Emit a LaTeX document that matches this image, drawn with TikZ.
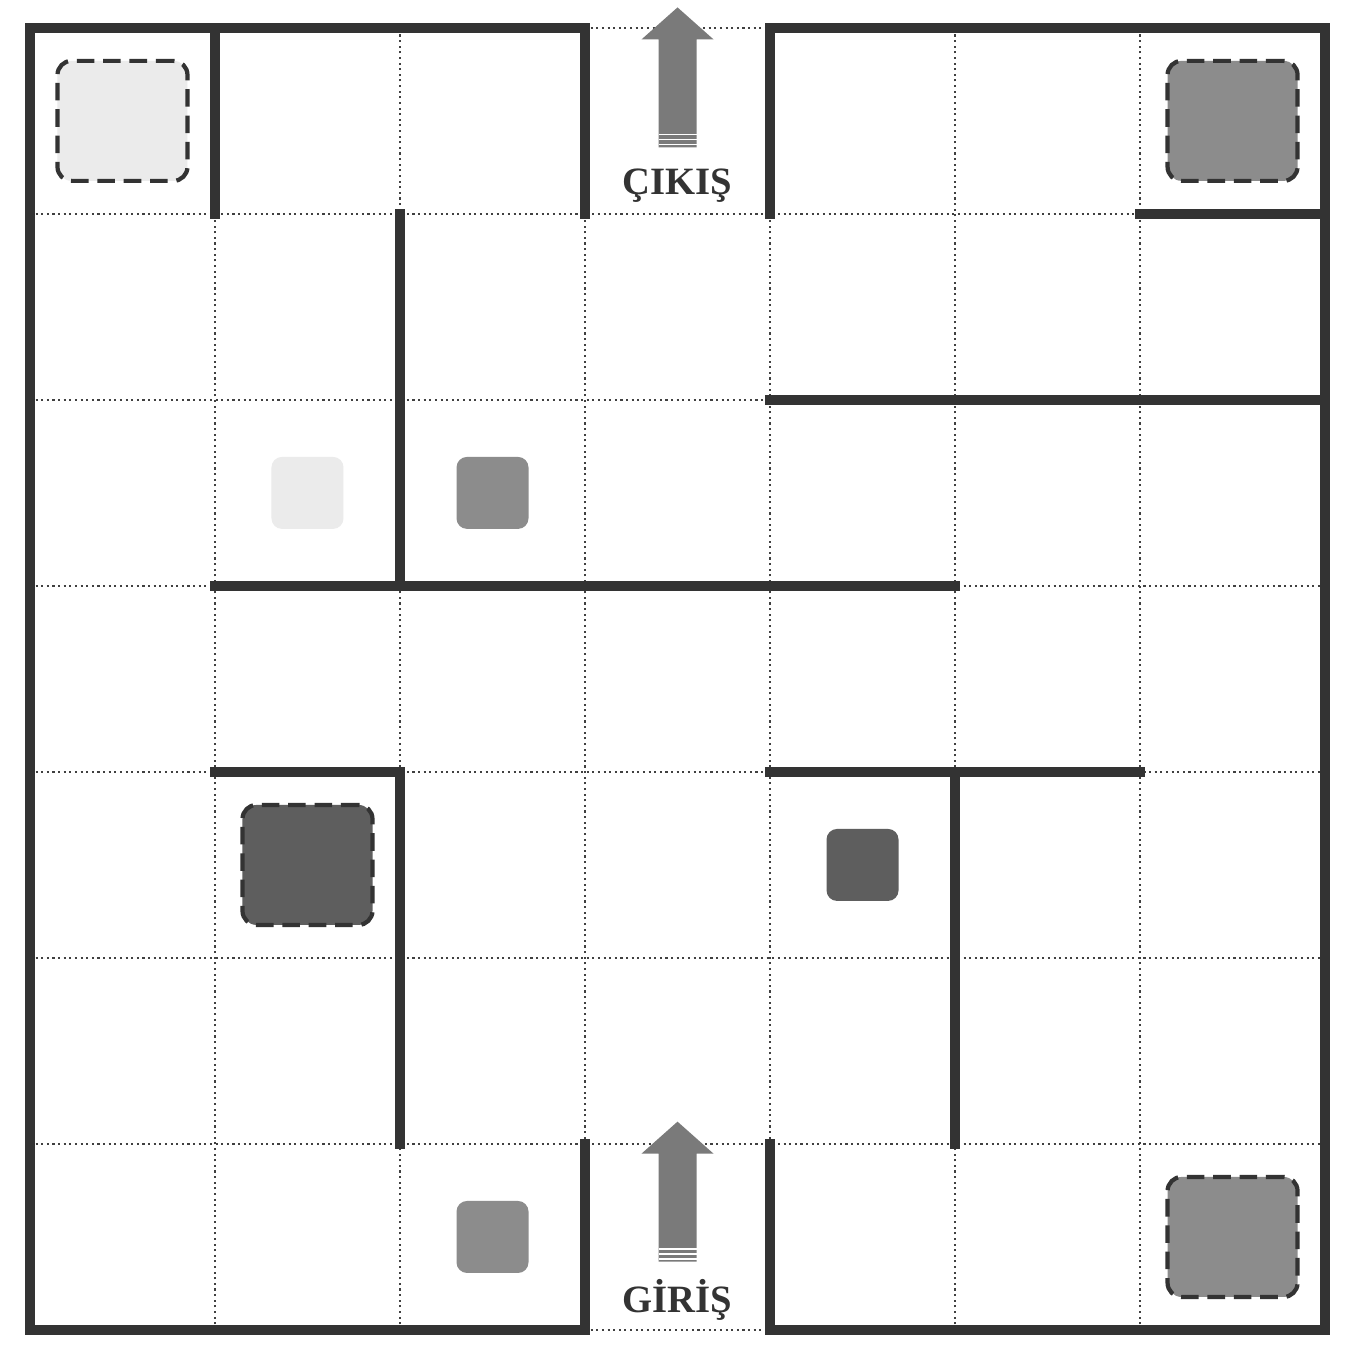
\documentclass[tikz,border=0pt]{standalone}
\usepackage{fontspec}
\setmainfont{Liberation Serif}
\usepackage{xcolor}
\definecolor{mazewall}{HTML}{333333}
\definecolor{mazelight}{HTML}{EBEBEB}
\definecolor{mazemid}{HTML}{8C8C8C}
\definecolor{mazedark}{HTML}{5E5E5E}
\definecolor{mazearrow}{HTML}{7A7A7A}
\usetikzlibrary{positioning}
\tikzset{
  mazegrid/.style={densely dotted,line width=0.6pt,black!75},
  mazewallline/.style={line width=2.8pt,mazewall,line cap=rect,line join=miter},
  bigblock/.style={draw=mazewall,line width=1.2pt,dash pattern=on 5pt off 2.5pt,rounded corners=4pt,minimum width=1.3cm,minimum height=1.2cm,inner sep=0pt},
  smallblock/.style={rounded corners=3pt,minimum size=0.72cm,inner sep=0pt},
  mazelabel/.style={font=\bfseries\fontsize{11}{13}\selectfont,text=mazewall,inner sep=1pt},
  mazeup/.pic={
    \fill[mazearrow] (0,0) -- (0.36cm,-0.32cm) -- (0.19cm,-0.32cm) -- (0.19cm,-1.4cm) -- (-0.19cm,-1.4cm) -- (-0.19cm,-0.32cm) -- (-0.36cm,-0.32cm) -- cycle;
    \foreach \s in {1.27,1.32,1.37}
      \draw[white,line width=0.5pt] (-0.19cm,{-\s*1cm}) -- (0.19cm,{-\s*1cm});
  },
}

\begin{document}
\begin{tikzpicture}[x=1.85cm,y=1.86cm]
\useasboundingbox[fill=white] (-0.162,-0.108) rectangle (7.178,7.15);
\foreach \i in {1,...,6}{
  \draw[mazegrid] (\i,0) -- (\i,7);
  \draw[mazegrid] (0,\i) -- (7,\i);
}
\draw[mazegrid] (3,7) -- (4,7) (3,0) -- (4,0);
\draw[mazewallline] (3,7) -- (0,7) -- (0,0) -- (3,0);
\draw[mazewallline] (4,0) -- (7,0) -- (7,7) -- (4,7);
\draw[mazewallline] (1,6) -- (1,7) (3,6) -- (3,7) (4,6) -- (4,7) (6,6) -- (7,6);
\draw[mazewallline] (2,4) -- (2,6) (4,5) -- (7,5) (1,4) -- (5,4);
\draw[mazewallline] (1,3) -- (2,3) -- (2,1) (4,3) -- (6,3) (5,3) -- (5,1);
\draw[mazewallline] (3,0) -- (3,1) (4,0) -- (4,1);
\node[bigblock,fill=mazelight] (cornerlight) at (0.5,6.5) {};
\node[bigblock,fill=mazemid] (cornertop) at (6.5,6.5) {};
\node[bigblock,fill=mazedark] (cornerdark) at (1.5,2.5) {};
\node[bigblock,fill=mazemid] (cornerbottom) at (6.5,0.5) {};
\node[smallblock,fill=mazelight] (keylight) at (1.5,4.5) {};
\node[smallblock,fill=mazemid] (keymid) at (2.5,4.5) {};
\node[smallblock,fill=mazedark] (keydark) at (4.5,2.5) {};
\node[smallblock,fill=mazemid] (keylow) at (2.5,0.5) {};
\node[mazelabel] (cikis) at (3.5,6.15) {ÇIKIŞ};
\node[mazelabel] (giris) at (3.5,0.16) {GİRİŞ};
\pic at (3.5,7.11) {mazeup};
\pic at (3.5,1.12) {mazeup};
\end{tikzpicture}
\end{document}
